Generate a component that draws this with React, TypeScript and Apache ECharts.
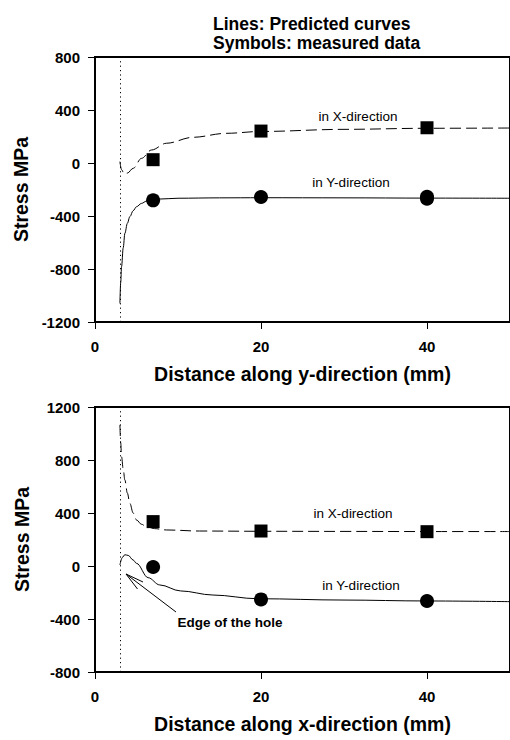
import React, { useEffect, useRef } from "react";
import * as echarts from "echarts";

// ---------- data ----------
const HOLE_EDGE = 3; // mm, edge of the hole (dotted line)

// Top panel: distance along y-direction
const topPredX_x = [3, 3.2, 3.5, 3.9, 4.6, 5.6, 6.8, 8.6, 11.8, 15.8, 20, 30, 40, 50];
const topPredX_y = [10, -50, -82, -76, -40, 35, 98, 149, 194, 224, 238, 254, 262, 264];
const topPredY_x = [3, 3.1, 3.2, 3.4, 3.6, 3.9, 4.2, 4.6, 5.0, 5.6, 6.2, 7.0, 7.8, 10, 15, 20, 30, 40, 50];
const topPredY_y = [-1060, -900, -783, -640, -531, -455, -405, -360, -330, -305, -288, -278, -272, -266, -263, -262, -263, -265, -266];
const topMeasX_x = [7, 20, 40];
const topMeasX_y = [25, 241, 266];
const topMeasY_x = [7, 20, 40, 40];
const topMeasY_y = [-282, -257, -255, -270];

// Bottom panel: distance along x-direction
const botPredX_x = [3, 3.1, 3.2, 3.4, 3.6, 3.9, 4.2, 4.6, 5.0, 5.6, 6.2, 7.2, 8.6, 12.6, 20, 30, 40, 50];
const botPredX_y = [1065, 930, 825, 730, 649, 550, 473, 400, 347, 315, 297, 282, 272, 264, 262, 261, 260, 260];
const botPredY_x = [3, 3.3, 3.6, 4.0, 4.6, 5.0, 6.4, 7.8, 10.3, 14.2, 19.6, 30, 40, 50];
const botPredY_y = [8, 65, 85, 80, 45, 20, -88, -143, -188, -219, -247, -257, -264, -269];
const botMeasX_x = [7, 20, 40];
const botMeasX_y = [335, 264, 259];
const botMeasY_x = [7, 20, 40];
const botMeasY_y = [-8, -252, -264];

// axes
const X_MIN = 0;
const X_MAX = 50;
const X_STEP = 20;
const TOP_Y_MIN = -1200;
const TOP_Y_MAX = 800;
const BOT_Y_MIN = -800;
const BOT_Y_MAX = 1200;
const Y_STEP = 400;

const TITLE_LINES = ["Lines: Predicted curves", "Symbols: measured data"];
const Y_TITLE = "Stress MPa";
const TOP_X_TITLE = "Distance along y-direction (mm)";
const BOT_X_TITLE = "Distance along x-direction (mm)";

// ---------- helpers ----------
const zip = (xs: number[], ys: number[]) => xs.map((x, i) => [x, ys[i]]);
const FONT = '"Liberation Sans", Arial, Helvetica, sans-serif';
const plain = (v: number) => String(v);

const makeXAxis = (gridIndex: number, name: string) => ({
  type: "value",
  gridIndex,
  min: X_MIN,
  max: X_MAX,
  interval: X_STEP,
  name,
  nameLocation: "middle",
  nameGap: 42,
  nameTextStyle: { fontFamily: FONT, fontSize: 19.5, fontWeight: "bold", color: "#000" },
  axisLine: { show: true, onZero: false, lineStyle: { color: "#000", width: 2 } },
  axisTick: { show: true, length: 7, lineStyle: { color: "#000", width: 1 } },
  axisLabel: {
    showMaxLabel: false,
    margin: 17,
    formatter: plain,
    fontFamily: FONT,
    fontSize: 15,
    fontWeight: "bold",
    color: "#000",
  },
  splitLine: { show: false },
});

const makeYAxis = (gridIndex: number, min: number, max: number) => ({
  type: "value",
  gridIndex,
  min,
  max,
  interval: Y_STEP,
  name: Y_TITLE,
  nameLocation: "middle",
  nameRotate: 90,
  nameGap: 63,
  nameTextStyle: { fontFamily: FONT, fontSize: 19.5, fontWeight: "bold", color: "#000" },
  axisLine: { show: true, onZero: false, lineStyle: { color: "#000", width: 2 } },
  axisTick: { show: true, length: 7, lineStyle: { color: "#000", width: 1 } },
  axisLabel: {
    margin: 15,
    formatter: plain,
    fontFamily: FONT,
    fontSize: 15,
    fontWeight: "bold",
    color: "#000",
  },
  splitLine: { show: false },
});

const predLine = (idx: number, data: number[][], dashed: boolean, withEdge: boolean) => ({
  type: "line",
  xAxisIndex: idx,
  yAxisIndex: idx,
  data,
  smooth: 0.35,
  smoothMonotone: "x",
  showSymbol: false,
  symbol: "none",
  lineStyle: { color: "#000", width: 1, type: dashed ? [11, 5] : "solid" },
  z: 2,
  markLine: withEdge
    ? {
        silent: true,
        symbol: ["none", "none"],
        label: { show: false },
        lineStyle: { color: "#000", width: 1, type: [1.2, 3.2] },
        data: [{ xAxis: HOLE_EDGE }],
      }
    : undefined,
});

const measured = (idx: number, data: number[][], symbol: string, size: number) => ({
  type: "scatter",
  xAxisIndex: idx,
  yAxisIndex: idx,
  data,
  symbol,
  symbolSize: size,
  itemStyle: { color: "#000", opacity: 1 },
  z: 3,
});

const annot = (text: string, x: number, y: number, bold = false) => ({
  type: "text",
  x,
  y,
  style: {
    text,
    fontFamily: FONT,
    fontSize: 13.5,
    fontWeight: bold ? "bold" : "normal",
    fill: "#000",
    textAlign: "center",
    textVerticalAlign: "middle",
  },
});

export default function App() {
  const ref = useRef<HTMLDivElement>(null);

  useEffect(() => {
    document.body.style.margin = "0";
    if (!ref.current) return;
    const chart = echarts.init(ref.current, null, { renderer: "svg" });

    const option = {
      animation: false,
      backgroundColor: "#fff",
      title: {
        text: TITLE_LINES.join("\n"),
        left: 208,
        top: 9,
        textStyle: { fontFamily: FONT, fontSize: 17.5, fontWeight: "bold", lineHeight: 19, color: "#000" },
      },
      grid: [
        { left: 95, top: 57, width: 417, height: 265, show: true, borderColor: "#000", borderWidth: 2 },
        { left: 95, top: 407, width: 417, height: 265, show: true, borderColor: "#000", borderWidth: 2 },
      ],
      xAxis: [makeXAxis(0, TOP_X_TITLE), makeXAxis(1, BOT_X_TITLE)],
      yAxis: [makeYAxis(0, TOP_Y_MIN, TOP_Y_MAX), makeYAxis(1, BOT_Y_MIN, BOT_Y_MAX)],
      series: [
        predLine(0, zip(topPredX_x, topPredX_y), true, true),
        predLine(0, zip(topPredY_x, topPredY_y), false, false),
        measured(0, zip(topMeasX_x, topMeasX_y), "rect", 13),
        measured(0, zip(topMeasY_x, topMeasY_y), "circle", 14),
        predLine(1, zip(botPredX_x, botPredX_y), true, true),
        predLine(1, zip(botPredY_x, botPredY_y), false, false),
        measured(1, zip(botMeasX_x, botMeasX_y), "rect", 13),
        measured(1, zip(botMeasY_x, botMeasY_y), "circle", 14),
      ],
      graphic: [
        annot("in X-direction", 358, 116),
        annot("in Y-direction", 351, 182),
        annot("in X-direction", 353, 513),
        annot("in Y-direction", 361, 585),
        annot("Edge of the hole", 230, 622, true),
        {
          type: "line",
          shape: { x1: 176, y1: 612, x2: 126, y2: 574 },
          style: { stroke: "#000", lineWidth: 1 },
        },
        {
          type: "polyline",
          shape: { points: [[143, 582], [126, 574], [137.5, 589]] },
          style: { stroke: "#000", lineWidth: 1, fill: null },
        },
      ],
    };

    chart.setOption(option as any);
    return () => chart.dispose();
  }, []);

  return <div ref={ref} style={{ width: 510, height: 740 }} />;
}
